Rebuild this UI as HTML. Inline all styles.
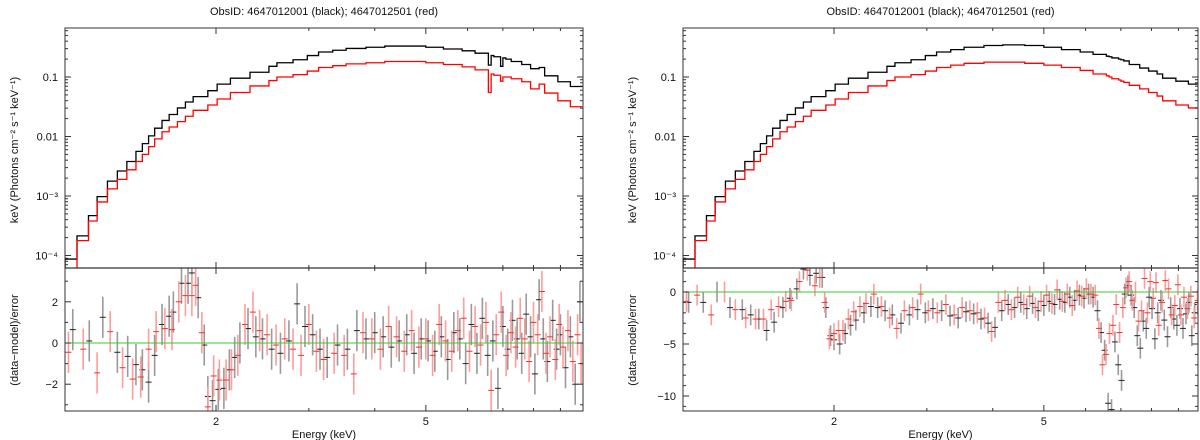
<!DOCTYPE html>
<html><head><meta charset="utf-8"><style>
html,body{margin:0;padding:0;background:#fff;}
svg{display:block;font-family:"Liberation Sans",sans-serif;}
</style></head><body>
<svg id="chart" width="1200" height="440" viewBox="0 0 1200 440">
<defs>
<clipPath id="cl-top-left"><rect x="65" y="28" width="518" height="240"/></clipPath>
<clipPath id="cl-bot-left"><rect x="65" y="268" width="518" height="143"/></clipPath>
<clipPath id="cl-top-right"><rect x="683" y="28" width="515" height="240"/></clipPath>
<clipPath id="cl-bot-right"><rect x="683" y="268" width="515" height="143"/></clipPath>
</defs>
</svg>
<script>
// ---- data ----
const binEdges = [1.035,1.09,1.146,1.19,1.245,1.30,1.355,1.41,1.45,1.49,1.53,1.58,1.63,1.69,1.75,1.81,1.93,2.01,2.13,2.32,2.52,2.61,2.8,2.98,3.13,3.33,3.53,3.85,4.18,4.6,5.0,5.4,5.86,6.2,6.57,6.65,6.73,6.93,7.0,7.09,7.26,7.6,7.9,8.2,8.4,8.9,9.4,9.9];
const leftBlackLogFlux = [-4.06,-3.67,-3.33,-3.01,-2.75,-2.58,-2.42,-2.25,-2.12,-1.99,-1.86,-1.73,-1.63,-1.52,-1.42,-1.33,-1.23,-1.12,-1.02,-0.92,-0.82,
 -0.76,-0.71,-0.64,-0.58,-0.55,-0.52,-0.50,-0.48,-0.48,-0.50,-0.53,-0.56,-0.60,-0.80,-0.64,-0.66,-0.82,-0.68,-0.70,-0.74,-0.79,-0.86,-0.84,-0.98,-1.08,-1.16];
const leftRedLogFlux = [-4.25,-3.75,-3.42,-3.10,-2.88,-2.72,-2.56,-2.42,-2.30,-2.17,-2.04,-1.92,-1.84,-1.75,-1.66,-1.56,-1.47,-1.37,-1.26,-1.15,-1.06,
 -1.00,-0.96,-0.90,-0.84,-0.81,-0.78,-0.76,-0.74,-0.74,-0.76,-0.79,-0.83,-0.88,-1.26,-0.95,-0.97,-1.07,-1.00,-1.00,-1.03,-1.08,-1.20,-1.12,-1.27,-1.40,-1.50];
const rightBlackLogFlux = [-4.06,-3.67,-3.33,-3.01,-2.75,-2.58,-2.42,-2.25,-2.12,-1.99,-1.86,-1.73,-1.63,-1.52,-1.42,-1.33,-1.23,-1.12,-1.02,-0.92,-0.82,
 -0.76,-0.71,-0.64,-0.58,-0.54,-0.50,-0.47,-0.46,-0.47,-0.50,-0.54,-0.58,-0.62,-0.65,-0.66,-0.68,-0.70,-0.71,-0.73,-0.79,-0.85,-0.90,-0.95,-1.02,-1.07,-1.12];
const rightRedLogFlux = [-4.25,-3.75,-3.42,-3.10,-2.88,-2.72,-2.56,-2.42,-2.30,-2.17,-2.04,-1.92,-1.84,-1.75,-1.66,-1.56,-1.47,-1.37,-1.26,-1.15,-1.06,
 -1.00,-0.96,-0.90,-0.84,-0.80,-0.77,-0.75,-0.75,-0.77,-0.80,-0.84,-0.89,-0.95,-0.98,-1.00,-1.03,-1.05,-1.07,-1.09,-1.14,-1.20,-1.26,-1.32,-1.40,-1.47,-1.52];

const leftBlackResE = [1.07,1.15,1.22,1.30,1.36,1.41,1.45,1.49,1.53,1.58,1.63,1.66,1.72,1.77,1.80,1.85,1.90,1.93,1.97,2.02,2.07,2.12,2.17,2.22,2.3,2.38,2.45,2.55,2.65,2.75,2.85,2.95,3.05,3.15,3.25,3.4,3.55,3.7,3.85,4.0,4.15,4.3,4.45,4.6,4.75,4.9,5.05,5.2,5.35,5.5,5.65,5.8,5.95,6.1,6.25,6.4,6.55,6.7,6.85,7.0,7.15,7.3,7.45,7.6,7.75,7.9,8.05,8.2,8.35,8.5,8.7,8.85,9.0,9.2,9.4,9.6,9.8];
const leftBlackRes = [0.65,0.1,1.25,-0.45,-0.65,-1.05,-1.3,-1.9,-0.6,0.9,1.3,1.5,2.9,2.9,3.4,2.2,-0.1,-2.6,-2.8,-2.25,-2.2,-1.3,-0.7,0.0,0.7,0.3,0.2,-0.3,-0.5,0.1,1.9,0.8,0.4,-0.3,-0.7,-0.1,-0.3,0.6,0.2,0.5,0.3,-0.2,0.1,0.4,-0.5,0.2,0.1,-0.4,0.3,-0.8,0.5,0.2,-1.0,0.9,-0.5,1.2,-0.6,0.1,-2.2,0.8,-0.3,1.1,0.2,-0.5,1.4,0.3,-1.5,2.1,0.2,-0.9,1.1,-0.3,0.4,-1.2,0.3,-2.0,2.0];
const leftRedResE = [1.05,1.12,1.19,1.26,1.33,1.39,1.44,1.49,1.54,1.60,1.65,1.70,1.75,1.80,1.83,1.88,1.93,1.98,2.03,2.09,2.14,2.2,2.27,2.35,2.42,2.5,2.6,2.7,2.8,2.9,3.0,3.1,3.2,3.35,3.5,3.65,3.8,3.95,4.1,4.25,4.4,4.55,4.7,4.85,5.0,5.15,5.3,5.45,5.6,5.75,5.9,6.05,6.2,6.35,6.5,6.65,6.8,6.95,7.1,7.25,7.4,7.55,7.7,7.85,8.0,8.15,8.3,8.45,8.6,8.8,8.95,9.1,9.3,9.5,9.7,9.85];
const leftRedRes = [-0.45,-0.3,-1.45,0.55,-1.2,-1.75,-1.65,-0.3,0.55,0.7,0.65,2.0,2.3,2.3,2.8,0.5,-3.1,-1.6,-1.8,-1.8,-1.3,-0.6,0.9,1.5,0.6,0.4,-0.1,0.2,-0.3,-0.6,0.9,-0.4,-0.8,-0.5,-0.6,-1.5,0.5,0.2,-0.3,0.8,0.3,-0.4,0.6,-0.2,0.2,-0.6,0.9,0.1,-0.4,0.6,1.2,-0.4,0.8,-0.1,1.0,-2.3,0.4,1.5,-0.6,0.5,-0.2,1.2,0.2,-0.9,1.0,0.4,2.5,-0.5,0.3,-0.8,0.9,-0.2,0.6,-0.9,0.4,-1.0];

const rightBlackResE = [1.06,1.13,1.20,1.27,1.34,1.39,1.44,1.49,1.54,1.60,1.65,1.70,1.75,1.80,1.85,1.90,1.93,1.97,2.0,2.05,2.1,2.15,2.2,2.28,2.35,2.42,2.5,2.58,2.68,2.78,2.88,2.98,3.08,3.2,3.32,3.44,3.56,3.68,3.8,3.92,4.04,4.16,4.28,4.4,4.52,4.64,4.76,4.88,5.0,5.12,5.24,5.36,5.48,5.6,5.72,5.84,5.96,6.08,6.2,6.32,6.42,6.52,6.62,6.72,6.82,6.92,7.02,7.12,7.22,7.32,7.42,7.52,7.62,7.72,7.82,7.92,8.02,8.12,8.22,8.34,8.46,8.58,8.7,8.82,8.94,9.06,9.18,9.3,9.42,9.54,9.66,9.8];
const rightBlackRes = [-1.0,-1.0,0.0,-1.5,-1.7,-2.2,-2.6,-3.7,-2.9,-1.5,-0.6,0.3,2.2,1.6,1.8,1.4,-1.5,-4.2,-4.6,-5.0,-4.0,-3.2,-2.7,-2.0,-1.4,-1.5,-1.8,-2.2,-3.0,-2.2,-1.7,-2.0,-1.6,-1.8,-2.3,-2.5,-1.9,-2.1,-2.6,-3.0,-3.4,-1.8,-1.2,-1.5,-1.0,-1.6,-1.1,-1.8,-1.3,-0.9,-1.2,-0.7,-1.0,-0.5,-0.8,-0.3,-0.6,-0.2,-0.5,-1.8,-3.9,-5.6,-10.7,-11.3,-4.8,-7.0,-8.5,-0.2,0.6,-0.3,-1.5,-4.2,-5.4,-2.8,-3.5,-0.5,-1.6,-4.5,-2.0,-0.8,-2.7,-4.3,-1.5,-2.6,-3.2,-1.6,-3.5,-2.1,-1.0,-4.2,-2.0,-1.2];
const rightRedResE = [1.05,1.1,1.17,1.24,1.30,1.36,1.42,1.47,1.52,1.57,1.62,1.66,1.72,1.78,1.84,1.88,1.92,1.96,2.0,2.04,2.08,2.13,2.18,2.24,2.3,2.38,2.46,2.55,2.63,2.72,2.82,2.92,3.02,3.14,3.26,3.38,3.5,3.62,3.74,3.86,3.98,4.1,4.22,4.34,4.46,4.58,4.7,4.82,4.94,5.06,5.18,5.3,5.42,5.54,5.66,5.78,5.9,6.02,6.14,6.26,6.36,6.46,6.56,6.66,6.76,6.86,6.96,7.06,7.16,7.26,7.36,7.46,7.56,7.66,7.76,7.86,7.96,8.06,8.16,8.26,8.38,8.5,8.62,8.74,8.86,8.98,9.1,9.22,9.36,9.5,9.64,9.78];
const rightRedRes = [-0.9,-0.3,-2.2,0.0,-1.7,-2.5,-2.6,-2.6,-1.7,-1.4,-0.9,-0.8,1.0,2.1,0.6,1.4,-1.0,-4.5,-4.0,-3.7,-3.7,-2.6,-1.9,-1.4,-1.1,-0.2,-1.4,-2.5,-3.5,-1.8,-1.5,-0.2,-1.8,-2.0,-1.2,-2.2,-1.5,-1.8,-2.0,-2.5,-3.8,-1.0,-0.8,-1.7,-0.5,-1.2,-0.4,-1.5,-0.9,-0.3,-1.1,0.2,-0.9,-0.2,-1.3,0.1,-0.4,0.3,-0.2,-0.3,-3.5,-7.0,-6.0,-4.0,-3.2,-1.2,-3.9,-1.5,0.4,1.0,-0.8,0.0,-2.8,-1.8,1.3,-2.0,1.0,-0.6,0.9,-3.2,-1.0,1.1,0.3,-2.2,-1.3,0.7,-2.2,-0.5,-1.6,-0.4,-2.5,-0.8];

const xTickMajor = [2,5];
const xTickMinor = [1,3,4,6,7,8,9,10];
const topTickLabels = [["0.1",-1],["0.01",-2],["10\u207B\u00B3",-3],["10\u207B\u2074",-4]];
const leftResTicks = [2,0,-2];
const rightResTicks = [0,-5,-10];

// ---- drawing ----
const NS = "http://www.w3.org/2000/svg";
const svg = document.getElementById('chart');
function mk(tag, attrs, parent){
  const e = document.createElementNS(NS, tag);
  for (const k in attrs) e.setAttribute(k, attrs[k]);
  (parent||svg).appendChild(e);
  return e;
}
const TOP_Y0 = 28, MID_Y = 268, BOT_Y1 = 411;
function yTop(logf){ return 77 - 59.5*(logf + 1); }

function panel(p){
  const xS = E => p.x2 + 229*Math.log(E/2);
  const yR = r => p.zeroY - p.perUnit*r;
  const g = mk('g', {});
  
  

  const t = mk('text', {x:(p.xL+p.xR)/2, y:15, 'text-anchor':'middle', 'font-size':11, fill:'#111'}, g);
  t.textContent = 'ObsID: 4647012001 (black); 4647012501 (red)';
  
  

  const gs = mk('g', {'clip-path':'url(#'+p.clipTop+')'}, g);
  
  
  [[p.black,'#000','black-model-spectrum'],[p.red,'#f00','red-model-spectrum']].forEach(([arr,col,nm])=>{
    let d = '';
    for (let i=0;i<arr.length;i++){
      const x0 = xS(binEdges[i]), x1 = xS(binEdges[i+1]), y = yTop(arr[i]);
      d += (i===0 ? 'M'+x0+','+(MID_Y+5) + 'L'+x0+','+y : 'L'+x0+','+y) + 'L'+x1+','+y;
    }
    const path = mk('path', {d:d, fill:'none', stroke:col, 'stroke-width':1.3}, gs);
    
    
  });

  const gr = mk('g', {'clip-path':'url(#'+p.clipBot+')'}, g);
  
  
  [[p.rbE,p.rb,'#9a9a9a','#222','black-residuals'],[p.rrE,p.rr,'#ff9c9c','#e33','red-residuals']].forEach(([es,rs,ec,cc,nm])=>{
    const sg = mk('g', {}, gr);
    
    
    for (let i=0;i<es.length;i++){
      const x = xS(es[i]), y = yR(rs[i]);
      const hw = 3;
      mk('line', {x1:x, x2:x, y1:yR(rs[i]+1), y2:yR(rs[i]-1), stroke:ec, 'stroke-width':1.6}, sg);
      mk('line', {x1:x-hw, x2:x+hw, y1:y, y2:y, stroke:cc, 'stroke-width':1}, sg);
    }
  });
  const zl = mk('line', {x1:p.xL, x2:p.xR, y1:yR(0), y2:yR(0), stroke:'#3c3', 'stroke-width':1}, g);
  
  

  const f = mk('rect', {x:p.xL, y:TOP_Y0, width:p.xR-p.xL, height:BOT_Y1-TOP_Y0, fill:'none', stroke:'#333', 'stroke-width':1}, g);
  
  
  mk('line', {x1:p.xL, x2:p.xR, y1:MID_Y, y2:MID_Y, stroke:'#333', 'stroke-width':1.2}, g);

  xTickMajor.concat(xTickMinor).forEach(E=>{
    const x = xS(E);
    if (x < p.xL || x > p.xR) return;
    const len = xTickMajor.includes(E) ? 6 : 3;
    [TOP_Y0, MID_Y, BOT_Y1].forEach(yb=>{
      if (yb !== TOP_Y0) mk('line', {x1:x, x2:x, y1:yb, y2:yb-len, stroke:'#333'}, g);
      if (yb !== BOT_Y1) mk('line', {x1:x, x2:x, y1:yb, y2:yb+len, stroke:'#333'}, g);
    });
  });
  xTickMajor.forEach(E=>{
    const tx = mk('text', {x:xS(E), y:425, 'text-anchor':'middle', 'font-size':11, fill:'#111'}, g);
    tx.textContent = String(E);
    
    
  });
  const xl = mk('text', {x:(p.xL+p.xR)/2, y:438, 'text-anchor':'middle', 'font-size':11, fill:'#111'}, g);
  xl.textContent = 'Energy (keV)';
  
  

  for (let dec=-5; dec<=0; dec++){
    for (let m=1; m<10; m++){
      const y = yTop(dec + Math.log10(m));
      if (y < TOP_Y0 || y > MID_Y) continue;
      const len = m===1 ? 6 : 3;
      mk('line', {x1:p.xL, x2:p.xL+len, y1:y, y2:y, stroke:'#333'}, g);
      mk('line', {x1:p.xR, x2:p.xR-len, y1:y, y2:y, stroke:'#333'}, g);
    }
  }
  topTickLabels.forEach(([lab,lv])=>{
    const ty = mk('text', {x:p.xL-7, y:yTop(lv)+4, 'text-anchor':'end', 'font-size':11, fill:'#111'}, g);
    ty.textContent = lab;
    
    
  });
  for (let v=-20; v<=10; v+=p.minorStep){
    const y = yR(v);
    if (y < MID_Y || y > BOT_Y1) continue;
    const len = p.resTicks.includes(v) ? 6 : 3;
    mk('line', {x1:p.xL, x2:p.xL+len, y1:y, y2:y, stroke:'#333'}, g);
    mk('line', {x1:p.xR, x2:p.xR-len, y1:y, y2:y, stroke:'#333'}, g);
  }
  p.resTicks.forEach(v=>{
    const ty = mk('text', {x:p.xL-7, y:yR(v)+4, 'text-anchor':'end', 'font-size':11, fill:'#111'}, g);
    ty.textContent = v<0 ? '\u2212'+Math.abs(v) : String(v);
    
    
  });

  const yt = mk('text', {x:0, y:0, transform:'translate('+(p.xL-47)+',150) rotate(-90)', 'text-anchor':'middle', 'font-size':11, fill:'#111'}, g);
  yt.textContent = 'keV (Photons cm\u207B\u00B2 s\u207B\u00B9 keV\u207B\u00B9)';
  
  
  const yr = mk('text', {x:0, y:0, transform:'translate('+(p.xL-47)+',340) rotate(-90)', 'text-anchor':'middle', 'font-size':11, fill:'#111'}, g);
  yr.textContent = '(data\u2212model)/error';
  
  
}

panel({name:'left-panel', xL:65, xR:583, x2:216, zeroY:343, perUnit:20.6, minorStep:1, resTicks:leftResTicks,
  clipTop:'cl-top-left', clipBot:'cl-bot-left', black:leftBlackLogFlux, red:leftRedLogFlux,
  rbE:leftBlackResE, rb:leftBlackRes, rrE:leftRedResE, rr:leftRedRes});
panel({name:'right-panel', xL:683, xR:1198, x2:834, zeroY:292, perUnit:10.4, minorStep:1, resTicks:rightResTicks,
  clipTop:'cl-top-right', clipBot:'cl-bot-right', black:rightBlackLogFlux, red:rightRedLogFlux,
  rbE:rightBlackResE, rb:rightBlackRes, rrE:rightRedResE, rr:rightRedRes});
</script>
</body></html>
